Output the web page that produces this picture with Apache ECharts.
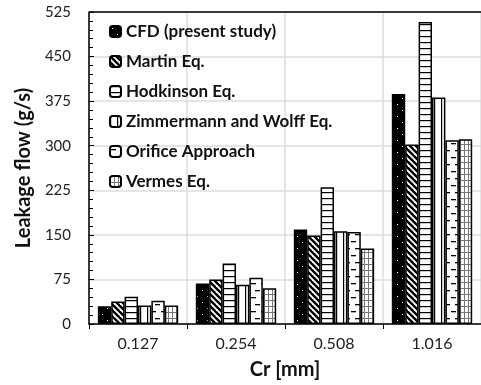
<!DOCTYPE html>
<html>
<head>
<meta charset="utf-8">
<script src="https://cdn.jsdelivr.net/npm/echarts@6/dist/echarts.min.js"></script>
<style>
  html, body { margin: 0; padding: 0; background: #fff; }
  #chart { width: 481px; height: 385px; }
</style>
</head>
<body>
<div id="chart"></div>
<script>
const categories = ['0.127', '0.254', '0.508', '1.016'];

const seriesNames = [
  'CFD (present study)', 'Martin Eq.', 'Hodkinson Eq.',
  'Zimmermann and Wolff Eq.', 'Orifice Approach', 'Vermes Eq.'
];

const cfd = [30, 68, 159, 387];
const martin = [38, 75, 149, 302];
const hodkinson = [46, 102, 230, 508];
const zimmermann = [31, 66, 156, 381];
const orifice = [39, 78, 155, 309];
const vermes = [31, 60, 127, 311];

// hatch fills drawn on small tiles
const makePattern = (w, h, draw) => {
  const c = document.createElement('canvas');
  c.width = w;
  c.height = h;
  const ctx = c.getContext('2d');
  ctx.fillStyle = '#fff';
  ctx.fillRect(0, 0, w, h);
  draw(ctx, w, h);
  return { image: c, repeat: 'repeat' };
};

const patterns = [
  makePattern(10, 12, (ctx, w, h) => {
    ctx.fillStyle = '#000';
    ctx.fillRect(0, 0, w, h);
    ctx.fillStyle = '#fff';
    ctx.fillRect(2, 2, 1, 1);
    ctx.fillRect(7, 8, 1, 1);
  }),
  makePattern(6, 6, (ctx, w, h) => {
    ctx.strokeStyle = '#000';
    ctx.lineWidth = 2.4;
    for (let k = -1; k <= 1; k++) {
      ctx.beginPath();
      ctx.moveTo(k * w - 1, -1);
      ctx.lineTo(k * w + w + 1, h + 1);
      ctx.stroke();
    }
  }),
  makePattern(6, 6, (ctx, w) => {
    ctx.fillStyle = '#000';
    ctx.fillRect(0, 0, w, 1.2);
  }),
  makePattern(7, 6, (ctx, w, h) => {
    ctx.fillStyle = '#000';
    ctx.fillRect(0, 0, 1.2, h);
  }),
  makePattern(10, 14, (ctx) => {
    ctx.fillStyle = '#000';
    ctx.fillRect(1, 3, 5, 1.3);
    ctx.fillRect(5, 10, 5, 1.3);
  }),
  makePattern(4, 6, (ctx, w, h) => {
    ctx.fillStyle = '#777';
    ctx.fillRect(0, 0, 1, h);
    ctx.fillRect(0, 0, w, 1);
  })
];

const values = [cfd, martin, hodkinson, zimmermann, orifice, vermes];

const chart = echarts.init(document.getElementById('chart'));

const option = {
  animation: false,
  textStyle: { fontFamily: 'Lato' },
  grid: { left: 89, top: 12, width: 394, bottom: 60, show: false },
  legend: {
    orient: 'vertical',
    left: 109,
    top: 23,
    padding: 0,
    itemWidth: 11,
    itemHeight: 11,
    itemGap: 13,
    data: seriesNames,
    textStyle: { fontSize: 17, fontWeight: 'bold', color: '#111', lineHeight: 17 }
  },
  xAxis: {
    type: 'category',
    data: categories,
    name: 'Cr [mm]',
    nameLocation: 'middle',
    nameGap: 36,
    nameTextStyle: { fontSize: 20, fontWeight: 'bold', color: '#111' },
    axisLine: { lineStyle: { color: '#000', width: 1.5 } },
    axisTick: { show: true, length: 5, lineStyle: { color: '#000' } },
    axisLabel: { fontSize: 16, color: '#222', margin: 12 },
    splitLine: { show: true, lineStyle: { color: '#ddd', width: 1.5 } }
  },
  yAxis: {
    type: 'value',
    min: 0,
    max: 525,
    interval: 75,
    name: 'Leakage flow (g/s)',
    nameLocation: 'middle',
    nameGap: 53,
    nameTextStyle: { fontSize: 20, fontWeight: 'bold', color: '#111' },
    axisLine: { show: true, lineStyle: { color: '#000', width: 1.5 } },
    axisTick: { show: true, inside: true, length: 5, lineStyle: { color: '#000' } },
    minorTick: { show: true, splitNumber: 5, length: 4, lineStyle: { color: '#000' } },
    axisLabel: { fontSize: 15, color: '#222', margin: 18 },
    splitLine: { lineStyle: { color: '#ddd', width: 1.5 } }
  },
  series: seriesNames.map((name, i) => ({
    name: name,
    type: 'bar',
    data: values[i],
    barGap: 0,
    barCategoryGap: '18%',
    itemStyle: { color: patterns[i], borderColor: '#000', borderWidth: 1.5 }
  }))
};

chart.setOption(option);

// top border of the plot area
chart.setOption({
  graphic: [{
    type: 'line',
    shape: { x1: 89, y1: 12, x2: 483, y2: 12 },
    style: { stroke: '#000', lineWidth: 1.5 }
  }]
});
</script>
</body>
</html>
